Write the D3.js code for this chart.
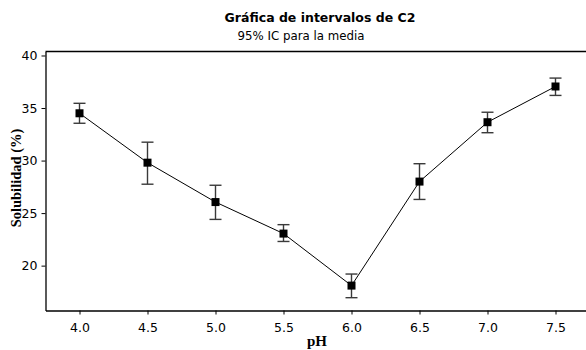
<!DOCTYPE html>
<html>
<head>
<meta charset="utf-8">
<script src="https://cdn.jsdelivr.net/npm/d3@7"></script>
<style>
  body { margin: 0; background: #fff; }
  svg { display: block; }
</style>
</head>
<body>
<div id="chart"></div>
<script>
// chart data
var phLevels = [4.0, 4.5, 5.0, 5.5, 6.0, 6.5, 7.0, 7.5];
var meanValues = [34.5, 29.8, 26.05, 23.05, 18.1, 28.0, 33.65, 37.05];
var ciLower = [33.55, 27.75, 24.4, 22.3, 16.95, 26.3, 32.65, 36.2];
var ciUpper = [35.45, 31.75, 27.65, 23.9, 19.2, 29.7, 34.6, 37.85];
var xTicks = [4.0, 4.5, 5.0, 5.5, 6.0, 6.5, 7.0, 7.5];
var yTicks = [20, 25, 30, 35, 40];

var width = 586, height = 350;
var plot = {left: 45.5, top: 51.5, bottom: 310.5, right: 589.5};

var svg = d3.select("#chart")
    .append("svg")
        .attr("width", width)
        .attr("height", height);

var x = d3.scaleLinear()
    .domain([3.75, 7.75])
    .range([plot.left, plot.right]);

var y = d3.scaleLinear()
    .domain([15.73, 40.38])
    .range([plot.bottom, plot.top]);

// titles
svg.append("text")
    .attr("x", 320).attr("y", 22)
    .attr("text-anchor", "middle")
    .style("font-family", "DejaVu Sans")
    .style("font-weight", "bold")
    .style("font-size", "12.5px")
    .text("Gráfica de intervalos de C2");

svg.append("text")
    .attr("x", 301).attr("y", 40)
    .attr("text-anchor", "middle")
    .style("font-family", "DejaVu Sans")
    .style("font-size", "11.8px")
    .text("95% IC para la media");

// frame: top line only, the right side runs off the picture
svg.append("line")
    .attr("x1", plot.left).attr("x2", width)
    .attr("y1", plot.top).attr("y2", plot.top)
    .attr("stroke", "#000").attr("stroke-width", 1.3);

var xAxis = svg.append("g")
    .attr("transform", "translate(0," + plot.bottom + ")")
    .call(d3.axisBottom(x).tickValues(xTicks).tickFormat(d3.format(".1f")).tickSize(4).tickSizeOuter(0));

var yAxis = svg.append("g")
    .attr("transform", "translate(" + plot.left + ",0)")
    .call(d3.axisLeft(y).tickValues(yTicks).tickSize(4).tickSizeOuter(0));

[xAxis, yAxis].forEach(function (g) {
    g.select(".domain").attr("stroke-width", 1.3);
    g.selectAll("text")
        .style("font-family", "DejaVu Sans")
        .style("font-size", "12.5px")
        .attr("fill", "#000");
});
xAxis.selectAll("text").attr("dy", "1.15em");
yAxis.selectAll("text").attr("dx", "-1px");

// axis labels
svg.append("text")
    .attr("x", 317).attr("y", 346)
    .attr("text-anchor", "middle")
    .style("font-family", "Liberation Serif")
    .style("font-weight", "bold")
    .style("font-size", "15px")
    .text("pH");

svg.append("text")
    .attr("transform", "translate(21,178) rotate(-90)")
    .attr("text-anchor", "middle")
    .style("font-family", "Liberation Serif")
    .style("font-weight", "bold")
    .style("font-size", "14.5px")
    .text("Solubilidad (%)");

// error bars
var capHalf = 6;
var bars = svg.append("g")
    .attr("stroke", "#3a3a3a")
    .attr("stroke-width", 1.4);

phLevels.forEach(function (ph, i) {
    bars.append("line")
        .attr("x1", x(ph)).attr("x2", x(ph))
        .attr("y1", y(ciLower[i])).attr("y2", y(ciUpper[i]));
    bars.append("line")
        .attr("x1", x(ph) - capHalf).attr("x2", x(ph) + capHalf)
        .attr("y1", y(ciUpper[i])).attr("y2", y(ciUpper[i]));
    bars.append("line")
        .attr("x1", x(ph) - capHalf).attr("x2", x(ph) + capHalf)
        .attr("y1", y(ciLower[i])).attr("y2", y(ciLower[i]));
});

// connecting line of the means
var line = d3.line()
    .x(function (d, i) { return x(phLevels[i]); })
    .y(function (d) { return y(d); });

svg.append("path")
    .datum(meanValues)
    .attr("d", line)
    .attr("fill", "none")
    .attr("stroke", "#000")
    .attr("stroke-width", 1);

// square markers
var markerSize = 8;
svg.append("g")
    .selectAll("rect")
    .data(meanValues)
    .enter()
    .append("rect")
        .attr("x", function (d, i) { return x(phLevels[i]) - markerSize / 2; })
        .attr("y", function (d) { return y(d) - markerSize / 2; })
        .attr("width", markerSize)
        .attr("height", markerSize)
        .attr("fill", "#000");
</script>
</body>
</html>
